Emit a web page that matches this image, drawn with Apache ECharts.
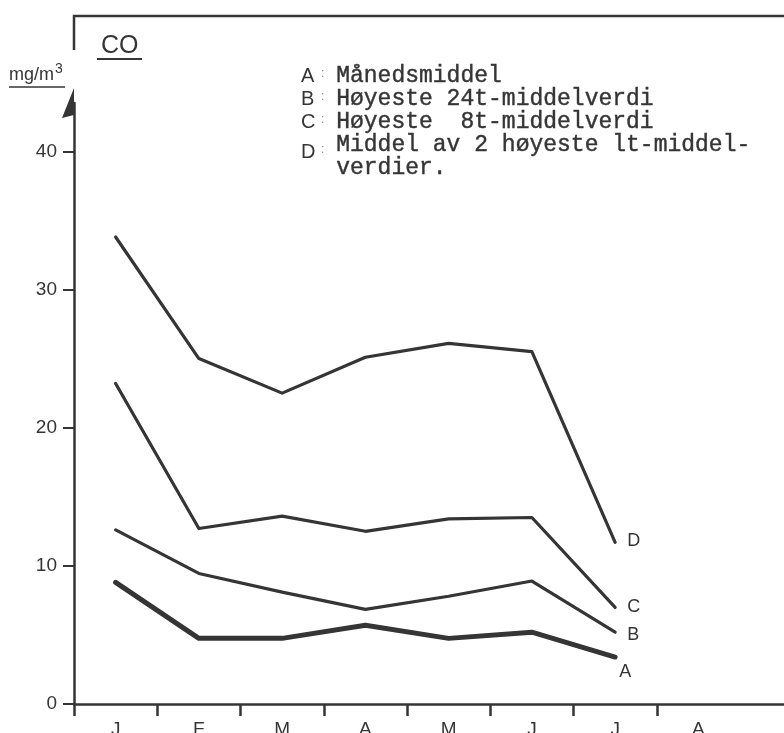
<!DOCTYPE html>
<html>
<head>
<meta charset="utf-8">
<script src="https://cdn.jsdelivr.net/npm/echarts@6/dist/echarts.min.js"></script>
<style>html,body{margin:0;padding:0;background:#fff;}#c{width:784px;height:733px;}</style>
</head>
<body>
<div id="c"></div>
<script>
// ---- data ----
var months = ['J','F','M','A','M','J','J','A','S','O','N','D'];
var visibleMonthLabels = 8;
var yTicks = [0, 10, 20, 30, 40];
var valuesA = [8.8, 4.75, 4.75, 5.7, 4.75, 5.2, 3.4];      // Månedsmiddel
var valuesB = [12.6, 9.45, 8.1, 6.85, 7.8, 8.9, 5.2];      // Høyeste 24t-middelverdi
var valuesC = [23.2, 12.7, 13.6, 12.5, 13.4, 13.5, 7.0];   // Høyeste 8t-middelverdi
var valuesD = [33.8, 25.0, 22.5, 25.1, 26.1, 25.5, 11.7];  // Middel av 2 høyeste 1t-middelverdier
var legendLetters = ['A', 'B', 'C', 'D'];
var legendTexts = ['Månedsmiddel', 'Høyeste 24t-middelverdi', 'Høyeste  8t-middelverdi', 'Middel av 2 høyeste lt-middel-\nverdier.'];

var ink = '#353535';
var sans = 'Liberation Sans, Arial, sans-serif';
var mono = 'Liberation Mono, Courier New, monospace';

var chart = echarts.init(document.getElementById('c'), null, {renderer: 'canvas'});

function mkSeries(name, data, width, labelOffset) {
  return {
    name: name, type: 'line', data: data, symbol: 'none',
    lineStyle: {color: ink, width: width, join: 'round', cap: 'round'},
    itemStyle: {color: ink},
    endLabel: {show: true, formatter: name, color: ink, fontFamily: sans, fontSize: 18, distance: 10, offset: labelOffset},
    animation: false
  };
}

var legendGraphics = [];
var legendTop = 64;
var lineH = 23;
legendLetters.forEach(function (l, i) {
  legendGraphics.push({
    type: 'text', left: 301, top: legendTop + 2 + i * lineH + (i === 3 ? 7 : 0),
    style: {text: l, font: '20px ' + sans, fill: ink}
  });
  legendGraphics.push({
    type: 'text', left: 321, top: legendTop + 4 + i * lineH + (i === 3 ? 7 : 0),
    style: {text: ':', font: '12px ' + sans, fill: '#888'}
  });
});
legendGraphics.push({
  type: 'text', left: 336, top: legendTop,
  style: {text: legendTexts.join('\n'), font: '23px ' + mono, fill: ink, lineHeight: lineH, stroke: ink, lineWidth: 0.4}
});

var option = {
  backgroundColor: '#fff',
  animation: false,
  grid: {left: 74, top: 103, bottom: 29, width: 999, outerBoundsMode: 'none', containLabel: false},
  xAxis: {
    type: 'category', data: months, boundaryGap: true,
    axisLine: {lineStyle: {color: ink, width: 2.5}},
    axisTick: {show: true, inside: false, length: 12, lineStyle: {color: ink, width: 2.5}},
    axisLabel: {color: ink, fontFamily: sans, fontSize: 19, margin: 16,
      interval: function (i) { return i < visibleMonthLabels; }},
    splitLine: {show: false}
  },
  yAxis: {
    type: 'value', min: 0, max: 43.5,
    axisLine: {show: true, lineStyle: {color: ink, width: 2.5},
      symbol: ['none', 'path://M12 0 L0 30 L12 27 Z M24 30'], symbolSize: [24, 30]},
    axisTick: {show: true, inside: false, length: 11, customValues: yTicks, lineStyle: {color: ink, width: 2}},
    axisLabel: {color: ink, fontFamily: sans, fontSize: 19, margin: 17, customValues: yTicks},
    splitLine: {show: false}
  },
  series: [
    mkSeries('A', valuesA, 5, [-6, 15]),
    mkSeries('B', valuesB, 3.2, [2, 3]),
    mkSeries('C', valuesC, 3.2, [2, 0]),
    mkSeries('D', valuesD, 3.2, [2, -1])
  ],
  graphic: [
    {type: 'polyline', shape: {points: [[74, 50], [74, 16], [784, 16]]}, style: {stroke: ink, lineWidth: 2.5, fill: null}},
    {type: 'text', left: 101, top: 34, style: {text: 'CO', font: '25px ' + sans, fill: ink}},
    {type: 'line', shape: {x1: 97, y1: 59, x2: 142, y2: 59}, style: {stroke: ink, lineWidth: 2}},
    {type: 'text', left: 9, top: 62, style: {
      text: '{u|mg/m}{s|3}', fill: ink,
      rich: {u: {fontFamily: sans, fontSize: 18, fill: ink, verticalAlign: 'bottom'},
             s: {fontFamily: sans, fontSize: 14, fill: ink, verticalAlign: 'top', padding: [0, 0, 8, 1]}}
    }},
    {type: 'line', shape: {x1: 9, y1: 87, x2: 65, y2: 87}, style: {stroke: ink, lineWidth: 1.5}}
  ].concat(legendGraphics)
};
chart.setOption(option);
</script>
</body>
</html>
